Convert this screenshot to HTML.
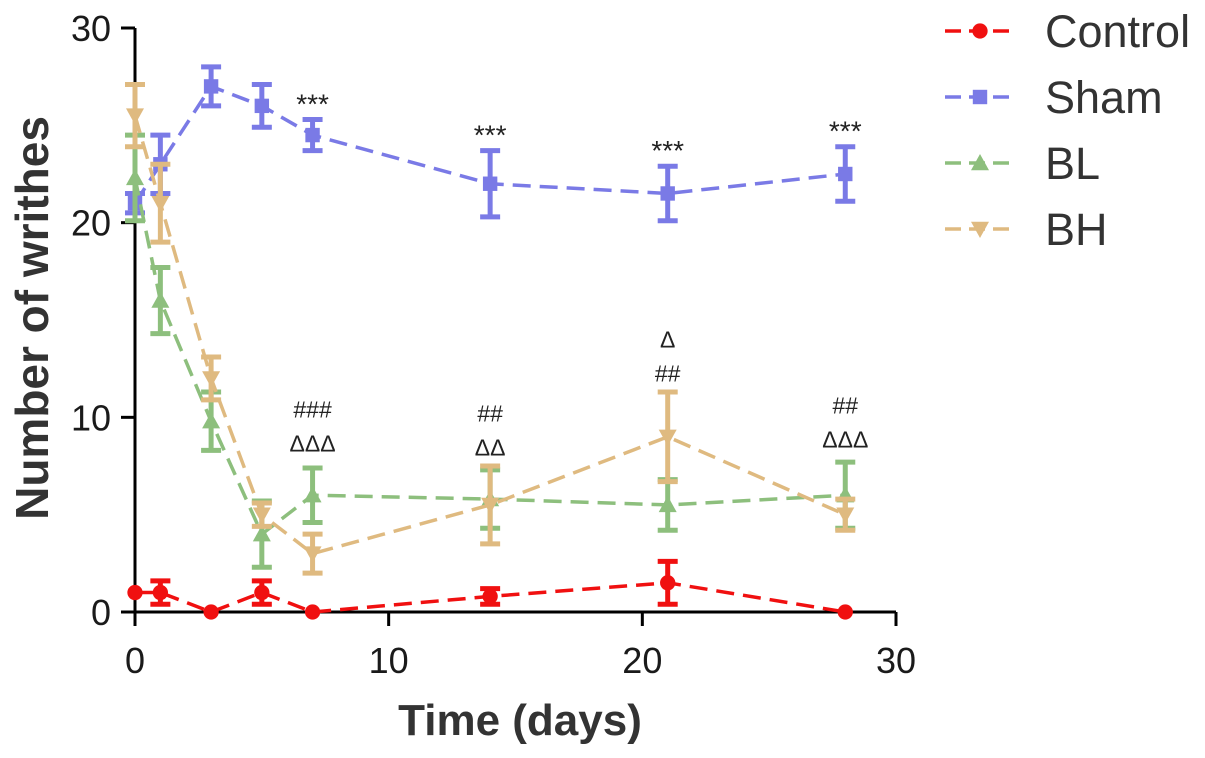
<!DOCTYPE html>
<html><head><meta charset="utf-8">
<style>
body{margin:0;background:#fff;}
svg{display:block;font-family:"Liberation Sans",Arial,sans-serif;}
</style></head>
<body>
<svg id="chart" width="1205" height="758" viewBox="0 0 1205 758">
<g id="axes"></g>
<g id="series"></g>
<g id="annot"></g>
<g id="legend"></g>
</svg>
<script>
const days = [0, 1, 3, 5, 7, 14, 21, 28];
const controlVals = [1, 1, 0, 1, 0, 0.8, 1.5, 0];
const controlErr = [0, 0.6, 0, 0.6, 0, 0.4, 1.1, 0];
const shamVals = [21, 23, 27, 26, 24.5, 22, 21.5, 22.5];
const shamErr = [0.5, 1.5, 1, 1.1, 0.8, 1.7, 1.4, 1.4];
const blVals = [22.3, 16, 9.8, 4, 6, 5.8, 5.5, 6];
const blErr = [2.2, 1.7, 1.5, 1.7, 1.4, 1.5, 1.3, 1.7];
const bhVals = [25.5, 21, 12, 5, 3, 5.5, 9, 5];
const bhErr = [1.6, 2, 1.1, 0.6, 1, 2, 2.3, 0.8];
const xTicks = [0, 10, 20, 30];
const yTicks = [0, 10, 20, 30];
const seriesNames = ["Control", "Sham", "BL", "BH"];
const annotDays = [7, 14, 21, 28];
const annotSham = ["***", "***", "***", "***"];
const annotLow1 = ["###", "##", "Δ", "##"];
const annotLow2 = ["ΔΔΔ", "ΔΔ", "##", "ΔΔΔ"];
const annotY1 = [10.4, 10.2, 14, 10.6];

const NS = "http://www.w3.org/2000/svg";
const X0 = 135, X1 = 896, Y0 = 612, Y1 = 28;
const xs = v => X0 + (v / 30) * (X1 - X0);
const ys = v => Y0 - (v / 30) * (Y0 - Y1);
function mk(tag, attrs, parent, text) {
  const e = document.createElementNS(NS, tag);
  for (const k in attrs) e.setAttribute(k, attrs[k]);
  if (text !== undefined) e.textContent = text;
  parent.appendChild(e);
  return e;
}
const axes = document.getElementById("axes");
let e;
e = mk("line", {x1: X0, y1: Y1, x2: X0, y2: Y0, stroke: "#000", "stroke-width": 3}, axes);


e = mk("line", {x1: X0, y1: Y0, x2: X1, y2: Y0, stroke: "#000", "stroke-width": 3}, axes);


xTicks.forEach(t => {
  mk("line", {x1: xs(t), y1: Y0, x2: xs(t), y2: Y0 + 14, stroke: "#000", "stroke-width": 3}, axes);
  e = mk("text", {x: xs(t), y: 673, "font-size": 36, "text-anchor": "middle", fill: "#1a1a1a"}, axes, t);
  
  
});
yTicks.forEach(t => {
  mk("line", {x1: X0 - 14, y1: ys(t), x2: X0, y2: ys(t), stroke: "#000", "stroke-width": 3}, axes);
  e = mk("text", {x: 111, y: ys(t) + 13, "font-size": 36, "text-anchor": "end", fill: "#1a1a1a"}, axes, t);
  
  
});
e = mk("text", {x: 520, y: 735, "font-size": 44, "font-weight": "bold", "text-anchor": "middle", fill: "#333"}, axes, "Time (days)");


e = mk("text", {x: 0, y: 0, "font-size": 46, "font-weight": "bold", "text-anchor": "middle", fill: "#333", transform: "translate(48,318) rotate(-90)"}, axes, "Number of writhes");



function marker(parent, type, cx, cy, color, s) {
  if (type === "circle") return mk("circle", {cx, cy, r: s * 0.85, fill: color}, parent);
  if (type === "square") return mk("rect", {x: cx - s * 0.8, y: cy - s * 0.8, width: s * 1.6, height: s * 1.6, fill: color}, parent);
  if (type === "up") return mk("polygon", {points: `${cx},${cy - s} ${cx - s},${cy + s * 0.8} ${cx + s},${cy + s * 0.8}`, fill: color}, parent);
  return mk("polygon", {points: `${cx},${cy + s} ${cx - s},${cy - s * 0.8} ${cx + s},${cy - s * 0.8}`, fill: color}, parent);
}
const defs = [
  {name: "control", vals: controlVals, err: controlErr, color: "#f01010", m: "circle"},
  {name: "sham", vals: shamVals, err: shamErr, color: "#7a7ae6", m: "square"},
  {name: "bl", vals: blVals, err: blErr, color: "#8dbf7d", m: "up"},
  {name: "bh", vals: bhVals, err: bhErr, color: "#dfba80", m: "down"}
];
const sg = document.getElementById("series");
defs.forEach(d => {
  const g = mk("g", {}, sg);
  
  
  const pts = days.map((x, i) => xs(x) + "," + ys(d.vals[i])).join(" ");
  mk("polyline", {points: pts, fill: "none", stroke: d.color, "stroke-width": 3.5, "stroke-dasharray": "18,9"}, g);
  days.forEach((x, i) => {
    const cx = xs(x), top = ys(d.vals[i] + d.err[i]), bot = ys(d.vals[i] - d.err[i]);
    if (d.err[i] > 0) {
      const eb = mk("path", {d: `M${cx},${top}V${bot}M${cx - 10},${top}H${cx + 10}M${cx - 10},${bot}H${cx + 10}`, stroke: d.color, "stroke-width": 5, fill: "none"}, g);
      
      
    }
    const p = marker(g, d.m, cx, ys(d.vals[i]), d.color, 9);
    
    
  });
});
const ag = document.getElementById("annot");
annotDays.forEach((dd, i) => {
  const cx = xs(dd);
  const j = days.indexOf(dd);
  e = mk("text", {x: cx, y: ys(shamVals[j] + shamErr[j]) - 6, "font-size": 28, "text-anchor": "middle", fill: "#222"}, ag, annotSham[i]);
  
  
  e = mk("text", {x: cx, y: ys(annotY1[i]) + 8, "font-size": 23, "text-anchor": "middle", fill: "#222"}, ag, annotLow1[i]);
  
  
  e = mk("text", {x: cx, y: ys(annotY1[i]) + 42, "font-size": 23, "text-anchor": "middle", fill: "#222"}, ag, annotLow2[i]);
  
  
});
const lg = document.getElementById("legend");
defs.forEach((d, i) => {
  const y = 31 + i * 66;
  const g = mk("g", {}, lg);
  
  
  mk("line", {x1: 945, y1: y, x2: 1015, y2: y, stroke: d.color, "stroke-width": 3.5, "stroke-dasharray": "16,8"}, g);
  marker(g, d.m, 980, y, d.color, 9);
  mk("text", {x: 1045, y: y + 16, "font-size": 45, fill: "#333"}, g, seriesNames[i]);
});
</script>
</body></html>
